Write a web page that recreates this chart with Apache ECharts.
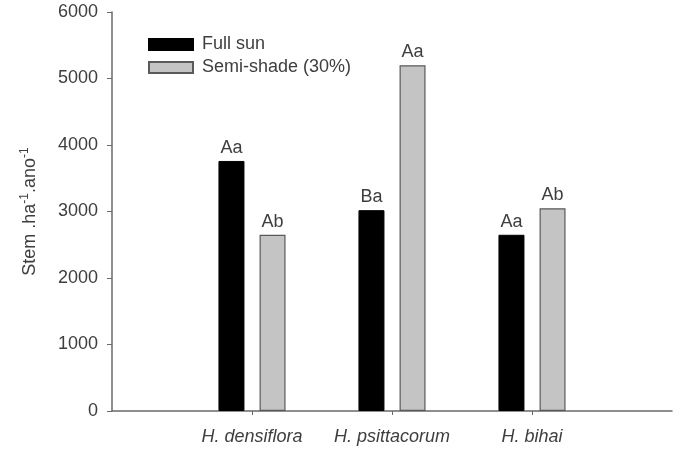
<!DOCTYPE html>
<html>
<head>
<meta charset="utf-8">
<script src="https://cdn.jsdelivr.net/npm/echarts@6/dist/echarts.min.js"></script>
<style>html,body{margin:0;padding:0;background:#fff}#c{width:680px;height:455px}</style>
</head>
<body>
<div id="c"></div>
<script>
var categories = ['', 'H. densiflora', 'H. psittacorum', 'H. bihai', ''];
var fullSun = [null, 3760, 3020, 2650, null];
var semiShade = [null, 2650, 5200, 3050, null];
var fullSunLetters = ['', 'Aa', 'Ba', 'Aa', ''];
var semiShadeLetters = ['', 'Ab', 'Aa', 'Ab', ''];
var seriesNames = ['Full sun', 'Semi-shade (30%)'];
var yTicks = [0, 1000, 2000, 3000, 4000, 5000, 6000];

var FONT = 'Liberation Sans, Arial, sans-serif';
var FS = 18;
var TXT = '#3e3e3e';
var AX = '#6a6a6a';
var chart = echarts.init(document.getElementById('c'), null, {renderer: 'canvas'});
function showIdx(i){ return i >= 1 && i <= 3; }
chart.setOption({
  animation: false,
  backgroundColor: '#fff',
  textStyle: {fontFamily: FONT},
  grid: {left: 112, right: 8, top: 12, bottom: 44, containLabel: false},
  legend: {
    orient: 'vertical', left: 143, top: 30.5, padding: 5,
    itemWidth: 44, itemHeight: 11, itemGap: 5,
    icon: 'rect',
    textStyle: {fontSize: FS, lineHeight: 18, color: TXT, fontFamily: FONT, padding: [0, 0, 0, 4]},
    data: seriesNames
  },
  xAxis: {
    type: 'category', data: categories, boundaryGap: false,
    axisLine: {lineStyle: {color: AX, width: 1.5}},
    axisTick: {show: true, length: 4, interval: function(i){return showIdx(i);}, lineStyle: {color: AX}},
    axisLabel: {interval: function(i){return showIdx(i);}, fontSize: FS, fontStyle: 'italic', color: TXT, margin: 17, fontFamily: FONT},
    splitLine: {show: false}
  },
  yAxis: {
    type: 'value', min: yTicks[0], max: yTicks[yTicks.length-1], interval: 1000,
    name: '{a|Stem .ha}{s|-1}{a|.ano}{s|-1}',
    nameLocation: 'middle', nameGap: 71, nameRotate: 90,
    nameTextStyle: {
      color: TXT, fontSize: FS, fontFamily: FONT,
      rich: {
        a: {fontSize: FS, color: TXT, fontFamily: FONT},
        s: {fontSize: 12, color: TXT, fontFamily: FONT, padding: [0, 0, 10, 0]}
      }
    },
    axisLine: {show: true, lineStyle: {color: AX, width: 1.5}},
    axisTick: {show: true, length: 5, lineStyle: {color: AX}},
    axisLabel: {fontSize: FS, color: TXT, margin: 14, fontFamily: FONT,
      formatter: function(v){return String(v);}},
    splitLine: {show: false}
  },
  series: [
    {
      name: seriesNames[0], type: 'bar', data: fullSun,
      barWidth: 26, barGap: '58%',
      itemStyle: {color: '#000000', borderColor: '#000000', borderWidth: 1},
      label: {show: true, position: 'top', distance: 4, fontSize: FS, color: TXT, fontFamily: FONT,
        formatter: function(p){return fullSunLetters[p.dataIndex];}}
    },
    {
      name: seriesNames[1], type: 'bar', data: semiShade,
      barWidth: 26,
      itemStyle: {color: '#c4c4c4', borderColor: '#5a5a5a', borderWidth: 1.2},
      label: {show: true, position: 'top', distance: 4, fontSize: FS, color: TXT, fontFamily: FONT,
        formatter: function(p){return semiShadeLetters[p.dataIndex];}}
    }
  ]
});
</script>
</body>
</html>
